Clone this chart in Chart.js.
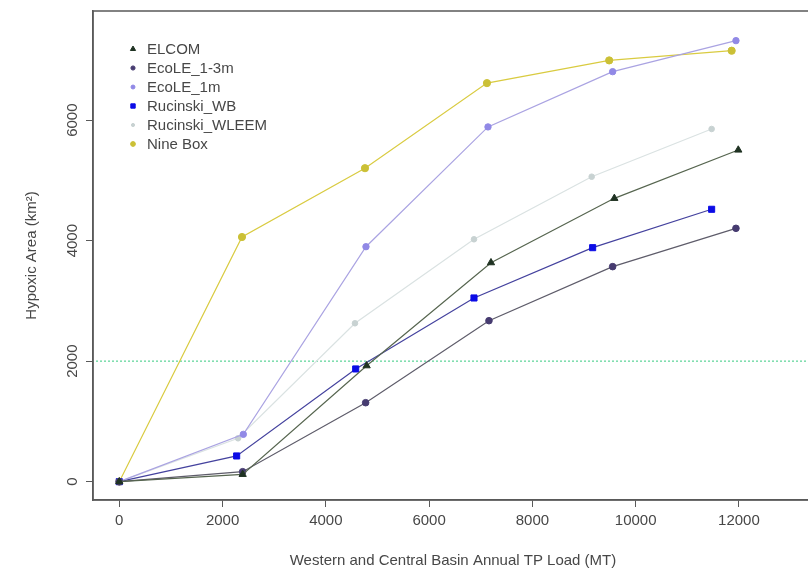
<!DOCTYPE html>
<html>
<head>
<meta charset="utf-8">
<script src="https://cdn.jsdelivr.net/npm/chart.js@4"></script>
<style>
  html, body { margin: 0; padding: 0; background: #fff; overflow: hidden; }
  #wrap { width: 830px; height: 576px; position: relative; }
</style>
</head>
<body>
<div id="wrap"><canvas id="c"></canvas></div>
<script>
// values
const elcomX = [0, 2389, 4790, 7198, 9587, 11987];
const elcomY = [0, 122, 1925, 3635, 4703, 5505];
const ecoDeepX = [0, 2389, 4771, 7159, 9554, 11942];
const ecoDeepY = [0, 166, 1311, 2672, 3569, 4205];
const eco1mX = [0, 2402, 4777, 7140, 9554, 11942];
const eco1mY = [0, 786, 3900, 5888, 6805, 7320];
const wbX = [0, 2273, 4578, 6869, 9167, 11471];
const wbY = [0, 427, 1871, 3049, 3884, 4521];
const wleemX = [0, 2300, 4564, 6869, 9148, 11471];
const wleemY = [0, 720, 2629, 4023, 5062, 5854];
const nineBoxX = [0, 2376, 4758, 7120, 9487, 11859];
const nineBoxY = [0, 4061, 5203, 6615, 6992, 7153];

const thresholdY = 2000;
const xTicks = [0, 2000, 4000, 6000, 8000, 10000, 12000];
const yTicks = [0, 2000, 4000, 6000];

const FONT = "'Liberation Sans', Arial, sans-serif";
const TXT = '#474747';
const AXIS = '#5a5a5a';

const pts = (xs, ys) => xs.map((x, i) => ({ x: x, y: ys[i] }));

const series = [
  { label: 'ELCOM', data: pts(elcomX, elcomY), line: '#56654f', fill: '#1f3222', style: 'triangle', r: 4.2 },
  { label: 'EcoLE_1-3m', data: pts(ecoDeepX, ecoDeepY), line: '#5e5c6a', fill: '#463b70', style: 'circle', r: 3.3 },
  { label: 'EcoLE_1m', data: pts(eco1mX, eco1mY), line: '#aaa3e2', fill: '#9189e6', style: 'circle', r: 3.2 },
  { label: 'Rucinski_WB', data: pts(wbX, wbY), line: '#44429e', fill: '#0c0ce6', style: 'rect', r: 4.3 },
  { label: 'Rucinski_WLEEM', data: pts(wleemX, wleemY), line: '#dae2e2', fill: '#c8d2d2', style: 'circle', r: 2.8 },
  { label: 'Nine Box', data: pts(nineBoxX, nineBoxY), line: '#d9cb40', fill: '#cbc036', style: 'circle', r: 3.6 }
];

const datasets = series.map(s => ({
  label: s.label,
  data: s.data,
  showLine: true,
  borderColor: s.line,
  borderWidth: 1.2,
  pointStyle: s.style,
  pointRadius: s.r,
  pointBackgroundColor: s.fill,
  pointBorderColor: s.fill,
  pointBorderWidth: 1
}));

datasets.push({
  label: 'threshold',
  data: [{ x: -2000, y: thresholdY }, { x: 16000, y: thresholdY }],
  showLine: true,
  borderColor: '#78dcaa',
  borderWidth: 1.5,
  borderDash: [2, 2],
  pointRadius: 0
});

// box top/right, rotated y tick labels, legend in the top-left corner
const extras = {
  id: 'extras',
  afterDraw(chart) {
    const ctx = chart.ctx;
    const a = chart.chartArea;
    ctx.save();
    ctx.strokeStyle = AXIS;
    ctx.lineWidth = 1.5;
    ctx.strokeRect(a.left, a.top, a.right - a.left, a.bottom - a.top);

    const ys = chart.scales.y;
    ctx.fillStyle = TXT;
    ctx.font = '15px ' + FONT;
    ctx.textAlign = 'center';
    ctx.textBaseline = 'middle';
    yTicks.forEach(v => {
      ctx.save();
      ctx.translate(73, ys.getPixelForValue(v));
      ctx.rotate(-Math.PI / 2);
      ctx.fillText(String(v), 0, 0);
      ctx.restore();
    });

    ctx.textAlign = 'left';
    series.forEach((s, i) => {
      const y = 49 + i * 19;
      ctx.fillStyle = s.fill;
      ctx.strokeStyle = s.fill;
      ctx.lineWidth = 1;
      Chart.helpers.drawPoint(ctx, { pointStyle: s.style, radius: s.r - 1.2, rotation: 0, borderWidth: 1 }, 133, y);
      ctx.fillStyle = TXT;
      ctx.fillText(s.label, 147, y + 1);
    });
    ctx.restore();
  }
};

new Chart(document.getElementById('c'), {
  type: 'scatter',
  data: { datasets: datasets },
  options: {
    responsive: true,
    maintainAspectRatio: false,
    animation: false,
    layout: { padding: { left: 0, top: 11, right: 17, bottom: 0 } },
    plugins: {
      legend: { display: false },
      tooltip: { enabled: false }
    },
    scales: {
      x: {
        type: 'linear',
        min: -509,
        max: 13434,
        afterBuildTicks: s => { s.ticks = xTicks.map(v => ({ value: v })); },
        afterFit: s => { s.height = 76; },
        grid: { drawOnChartArea: false, drawTicks: true, tickLength: 7, tickColor: AXIS, color: AXIS },
        border: { display: true, color: AXIS, width: 1.5 },
        ticks: { color: TXT, font: { family: FONT, size: 15 }, padding: 5, maxRotation: 0, callback: v => String(v) },
        title: {
          display: true,
          text: 'Western and Central Basin Annual TP Load (MT)',
          color: TXT,
          font: { family: FONT, size: 15 },
          padding: { top: 0, bottom: 6 }
        }
      },
      y: {
        type: 'linear',
        min: -304,
        max: 7812,
        afterBuildTicks: s => { s.ticks = yTicks.map(v => ({ value: v })); },
        afterFit: s => { s.width = 93; },
        grid: { drawOnChartArea: false, drawTicks: true, tickLength: 7, tickColor: AXIS, color: AXIS },
        border: { display: true, color: AXIS, width: 1.5 },
        ticks: { display: false },
        title: {
          display: true,
          text: 'Hypoxic Area (km²)',
          color: TXT,
          font: { family: FONT, size: 15 },
          padding: { top: 23, bottom: 0 }
        }
      }
    }
  },
  plugins: [extras]
});
</script>
</body>
</html>
